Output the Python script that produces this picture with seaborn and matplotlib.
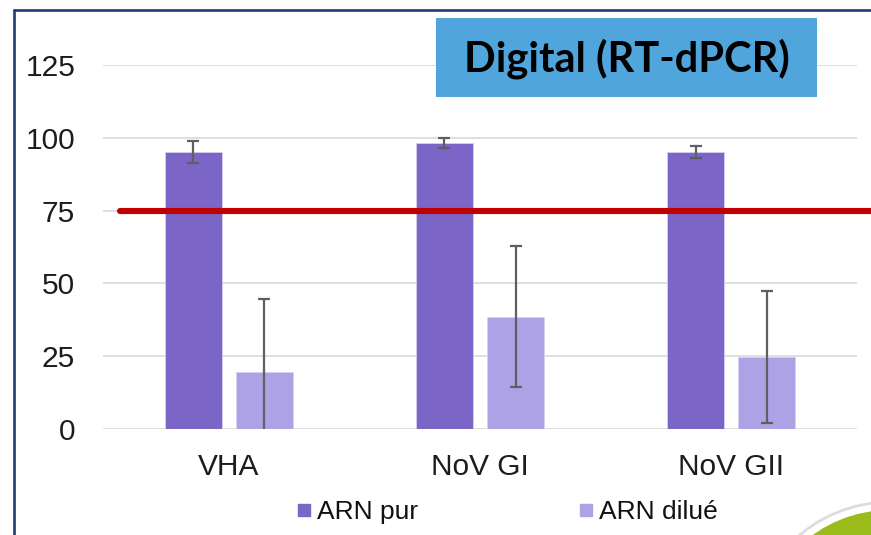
import matplotlib
matplotlib.use("Agg")
import matplotlib.pyplot as plt
from matplotlib.patches import Rectangle, Circle
from matplotlib.lines import Line2D
import seaborn as sns
import pandas as pd

# Recovery (%) per target, pure vs diluted RNA
cibles = ["VHA", "NoV GI", "NoV GII"]
series = ["ARN pur", "ARN dilué"]
arn_pur = [95.1, 98.2, 95.1]
arn_pur_err = [3.8, 1.6, 2.1]
arn_dilue = [19.6, 38.5, 24.8]
arn_dilue_err = [25.0, 24.2, 22.7]
seuil = 75
y_ticks = [0, 25, 50, 75, 100, 125]
titre = "Digital (RT-dPCR)"

couleurs = {"ARN pur": "#7B65C6", "ARN dilué": "#AEA2E6"}

df = pd.DataFrame({
    "cible": cibles * 2,
    "echantillon": [series[0]] * 3 + [series[1]] * 3,
    "valeur": arn_pur + arn_dilue,
})
erreurs = {series[0]: arn_pur_err, series[1]: arn_dilue_err}

sns.set_theme(style="white")
plt.rcParams["font.family"] = ["Liberation Sans", "DejaVu Sans"]

W, H = 871, 535
fig = plt.figure(figsize=(W / 100, H / 100), dpi=100)
ax = fig.add_axes([103 / W, 1 - 429 / H, (857 - 103) / W, (429 - 65) / H])

sns.barplot(data=df, x="cible", y="valeur", hue="echantillon", order=cibles,
            hue_order=series, palette=couleurs, width=0.565, gap=0.2,
            errorbar=None, saturation=1, legend=False, ax=ax,
            edgecolor="#d6cff2", linewidth=0.6, zorder=2)

# error bars centred on each bar
for cont, nom in zip(ax.containers, series):
    xs = [p.get_x() + p.get_width() / 2 for p in cont.patches]
    ys = [p.get_height() for p in cont.patches]
    ax.errorbar(xs, ys, yerr=erreurs[nom], fmt="none", ecolor="#5f5f5f",
                elinewidth=1.6, capsize=4.5, capthick=1.6, zorder=3)

# threshold line
ax.axhline(seuil, xmin=0.0225, xmax=1.0186, color="#C00000", lw=4.4,
           clip_on=False, zorder=4)

ax.set_ylim(0, 125)
ax.set_xlim(-0.5, 2.5)
ax.set_yticks(y_ticks)
ax.set_yticklabels([str(v) for v in y_ticks])
ax.grid(axis="y", color="#d9d9d9", lw=1.2, zorder=0)
ax.set_axisbelow(True)
for s in ax.spines.values():
    s.set_visible(False)
ax.tick_params(axis="y", length=0, pad=20, labelsize=21.5, labelcolor="#1c1c1c")
ax.tick_params(axis="x", length=0, pad=17, labelsize=21.5, labelcolor="#1c1c1c")
ax.set_xlabel("")
ax.set_ylabel("")

# legend
poignees = [Line2D([], [], marker="s", linestyle="none", markersize=9,
                   markerfacecolor=couleurs[n], markeredgecolor=couleurs[n])
            for n in series]
fig.legend(poignees, series, loc="center", bbox_to_anchor=(506 / W, 1 - 512 / H),
           ncol=2, frameon=False, fontsize=19, handletextpad=0.1,
           columnspacing=6.0, handlelength=0.75, labelcolor="#111111")

# title box
fig.patches.append(Rectangle((436 / W, 1 - 97 / H), (817 - 436) / W, 79 / H,
                             transform=fig.transFigure, facecolor="#4FA5DC",
                             edgecolor="none", zorder=5))
fig.text(626.5 / W, 1 - 59 / H, titre, ha="center", va="center",
         fontsize=30, fontweight="bold", family=["Lato", "DejaVu Sans"],
         color="black", zorder=6)

# slide frame
fig.lines.append(Line2D([13.5 / W, 13.5 / W], [0, 1 - 10 / H],
                        transform=fig.transFigure, color="#1F3B7B", lw=1.9))
fig.lines.append(Line2D([13.5 / W, 1], [1 - 10 / H, 1 - 10 / H],
                        transform=fig.transFigure, color="#1F3B7B", lw=1.9))

# corner ornament
fig.patches.append(Circle((890, H - 642), 140, transform=None,
                          facecolor="white", edgecolor="#dcdcdc", lw=2, zorder=1))
fig.patches.append(Circle((890, H - 642), 132, transform=None,
                          facecolor="#9BBB1A", edgecolor="none", zorder=2))

fig.savefig("out.png", dpi=100)
